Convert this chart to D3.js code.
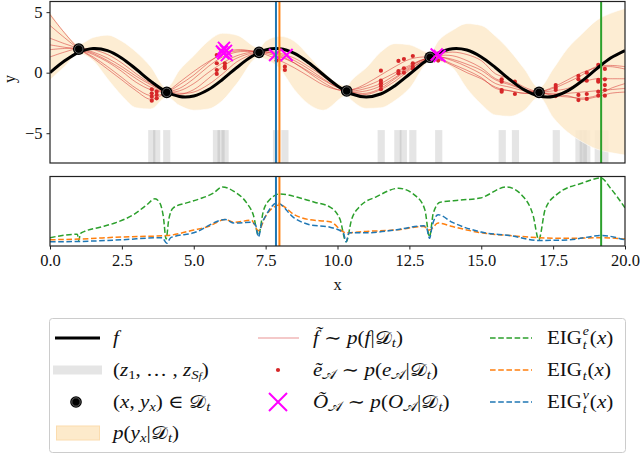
<!DOCTYPE html>
<html>
<head>
<meta charset="utf-8">
<script src="https://cdn.jsdelivr.net/npm/d3@7"></script>
<style>
body { margin: 0; background: #fff; }
svg { display: block; }
text { font-family: "Liberation Serif", "DejaVu Serif", serif; fill: #111; }
</style>
</head>
<body>
<svg id="chart" width="640" height="454"></svg>
<script>
// ---- data ----
var gridX = [0,0.5,1,1.5,2,2.5,3,3.5,4,4.5,5,5.5,6,6.5,7,7.5,8,8.5,9,9.5,10,
  10.5,11,11.5,12,12.5,13,13.5,14,14.5,15,15.5,16,16.5,17,17.5,18,18.5,19,19.5,20]
var fTrue = [0,0.96,1.68,1.99,1.82,1.2,0.28,-0.7,-1.51,-1.96,-1.92,-1.41,-0.56,0.43,1.31,1.88,1.98,1.6,0.82,-0.15,-1.09,
  -1.76,-2,-1.76,-1.07,-0.13,0.84,1.61,1.98,1.87,1.3,0.41,-0.58,-1.42,-1.92,-1.96,-1.5,-0.69,0.3,1.21,1.83]

// posterior samples f~
var s1 = [4.8,3.3,2,1.2,0.3,-0.6,-1.5,-2.2,-1.7,-0.8,0.1,0.9,1.5,1.8,1.8,1.6,1.3,0.8,0.1,-0.6,-1.2,
  -1.4,-1.1,-0.6,0,0.6,1.1,1.1,0.6,0,-0.5,-1.2,-1.5,-1.7,-1.6,-1.3,-0.8,-0.2,0.5,0.6,0.5]
var s2 = [3.9,2.9,2,1.5,0.9,0.1,-0.8,-1.4,-1.6,-1.3,-0.5,0.5,1.3,1.7,1.75,1.7,1.5,1,0.3,-0.5,-1.2,
  -1.5,-1.3,-0.9,-0.2,0.5,1.1,1.3,1,0.5,-0.1,-0.9,-1.2,-1.5,-1.6,-1.5,-1.3,-0.8,-0.5,-0.5,-0.5]
var s3 = [2.85,2.4,2,1.6,1,0.3,-0.5,-1.2,-1.6,-1.5,-0.9,0,0.8,1.4,1.7,1.8,1.6,1.2,0.5,-0.3,-1.1,
  -1.6,-1.7,-1.3,-0.5,0.3,1,1.4,1.4,1,0.4,-0.5,-0.9,-1.4,-1.65,-1.7,-1.7,-1.6,-1.5,-1.4,-1.3]
var s4 = [1.9,2,2,1.7,1.2,0.5,-0.3,-1,-1.6,-1.8,-1.4,-0.5,0.5,1.2,1.6,1.7,1.4,0.8,0,-0.8,-1.4,
  -1.6,-1.5,-1.1,-0.4,0.4,1.1,1.3,1.1,0.7,0.2,-0.6,-1,-1.4,-1.6,-1.9,-2,-2.1,-1.9,-1.3,-0.9]
var s5 = [1.3,1.7,2,1.9,1.5,0.8,-0.1,-0.9,-1.5,-1.7,-1.6,-1,-0.1,0.9,1.5,1.9,2,1.6,0.8,-0.2,-1.1,
  -1.7,-1.8,-1.4,-0.7,0.2,1,1.5,1.7,1.5,1,-0.1,-0.5,-1.2,-1.6,-1.8,-1.9,-2.2,-2,-1.7,-1.6]
var s6 = [2.3,2.1,1.9,1.3,0.5,-0.4,-1.3,-1.9,-1.7,-1,-0.2,0.8,1.6,1.9,1.8,1.5,1,0.4,-0.3,-1,-1.4,
  -1.4,-0.9,-0.2,0.5,1.1,1.3,1.2,0.7,0.2,-0.4,-1.3,-1.5,-1.7,-1.6,-1.2,-0.6,0,0.4,0.5,0.3]
var samples = [s1, s2, s3, s4, s5, s6]

// observations D_t
var obsX = [1.0, 4.06, 7.27, 10.32, 13.22, 17.01]
var obsY = [1.95, -1.63, 1.68, -1.51, 1.27, -1.63]

// predictive band p(y_x|D_t)
var bandX = [0,0.5,1,1.5,2,2.5,3,3.5,4.06,4.5,5,5.5,6,6.5,7.27,7.5,8,8.5,9,9.5,10.32,
  10.5,11,11.5,12,12.5,13.22,13.5,14,14.5,15,15.5,16,16.5,17.01,17.5,18,18.5,19,19.5,20]
var bandUp = [5,3.4,2.35,2.9,3.1,2.6,1.7,0.5,-1.25,0.2,1.4,2.6,3.25,3.1,2.05,2.6,3,2.6,1.4,0.1,-1.1,
  -0.6,0.4,1.7,2.4,2.3,1.65,2.6,3.5,4.05,3.9,3,1.8,0.3,-1.25,0.3,2,3.2,4.3,4.9,5.3]
var bandLo = [-0.6,0.5,1.55,1,-0.5,-1.9,-2.9,-3,-2,-2.7,-3.1,-3,-2.3,-0.9,1.3,1.1,0.3,-1.4,-2.6,-3.1,-1.9,
  -2.3,-2.95,-2.9,-2.3,-1.3,0.9,0.9,0.4,-1.3,-2.6,-3.5,-3.6,-3.1,-2,-3.7,-4.9,-5.7,-6.3,-6.6,-6.8]

// sampled points z_1..z_Sf (grey bars)
var zX = [3.54,3.71,4.06,5.79,5.95,6.09,7.88,8.17,11.52,12.1,12.29,12.62,13.52,
  15.73,16.19,17.61,18.4,18.55,18.67,19.07,19.3]

// execution path samples e_A
var dotX = [3.54,3.54,3.54,3.54,3.71,3.71,3.71,5.8,5.8,5.8,5.8,6.08,6.08,6.08,7.88,8.17,8.17,
  11.51,11.51,11.51,11.51,11.51,12.12,12.12,12.12,12.31,12.31,12.31,12.62,12.62,12.62,12.62,13.5,
  15.71,15.71,15.71,15.71,16.17,16.17,17.59,17.59,17.59,17.59,18.38,18.38,18.38,18.38,
  18.67,18.67,18.67,18.67,19.07,19.07,19.07,19.07,19.07,19.3,19.3,19.3,19.3,19.3]
var dotY = [-1.37,-1.7,-1.98,-2.31,-1.57,-1.84,-2.12,1.46,0.78,0.22,-0.1,0.78,0.55,0.38,1.0,0.5,0.22,
  0.17,-0.66,-0.88,-1.1,-1.37,0.97,0.14,-0.05,1.13,0.36,0,1.38,0.78,0.5,0.33,1.0,
  -0.55,-0.74,-1.43,-1.57,-0.74,-1.76,-1.02,-1.24,-1.43,-1.93,-0.27,-0.55,-1.84,-2.26,
  0,-0.66,-1.76,-2.17,0.64,-0.6,-0.74,-1.57,-1.9,0.31,-0.55,-1.02,-1.43,-1.9]

// algorithm outputs O_A
var outX = [6.05, 6.12, 6.03, 6.15, 5.98, 7.83, 8.23, 13.45, 13.55]
var outY = [2.05, 1.8, 1.6, 1.45, 1.75, 1.46, 1.46, 1.5, 1.38]

// chosen queries (vertical lines)
var pickBlue = 7.86, pickOrange = 7.98, pickGreen = 19.17

// EIG curves (arbitrary units, 0..1 of lower panel)
var eigEX = [0,0.95,1.0,1.06,1.2,1.74,2.32,2.9,3.36,3.65,3.82,3.94,4.04,4.13,4.29,4.75,5.22,5.68,6.0,6.38,
  6.84,7.07,7.25,7.42,7.65,8.0,8.7,9.2,9.74,10.09,10.3,10.49,10.78,11.36,12.12,12.75,13.04,13.2,13.33,
  13.57,14.26,14.96,15.88,16.46,16.81,17.0,17.22,17.62,18.55,19.17,19.48,20]
var eigEY = [0.12,0.17,0.08,0.18,0.21,0.27,0.34,0.45,0.59,0.68,0.62,0.43,0.1,0.38,0.55,0.62,0.68,0.76,0.85,0.79,
  0.62,0.45,0.16,0.5,0.67,0.75,0.69,0.63,0.56,0.38,0.06,0.38,0.57,0.71,0.83,0.71,0.52,0.13,0.47,
  0.63,0.66,0.69,0.85,0.71,0.43,0.09,0.52,0.74,0.91,0.98,0.84,0.55]
var eigX = [0,1,2.5,4.06,5,5.5,6.1,6.4,7.0,7.25,7.5,8.0,8.5,9.0,9.74,10.3,11,12,13,13.2,13.5,14,15,16,17,18,19.2,20]
var eigY = [0.09,0.1,0.13,0.15,0.23,0.28,0.38,0.34,0.37,0.22,0.43,0.59,0.45,0.38,0.35,0.19,0.21,0.23,0.28,0.23,
  0.33,0.28,0.19,0.15,0.12,0.11,0.12,0.1]
var eigVX = [0,1,2.5,3.9,4.06,4.2,5,6.1,6.4,7.0,7.15,7.25,7.35,7.5,7.9,8.5,9.0,9.74,10.2,10.3,10.4,11,12,13,13.1,
  13.2,13.3,13.5,14,15,16,17,18,19.2,20]
var eigVY = [0.06,0.065,0.09,0.12,0.04,0.12,0.19,0.38,0.33,0.34,0.3,0.13,0.3,0.43,0.62,0.4,0.31,0.27,0.19,0.06,0.19,
  0.19,0.23,0.29,0.26,0.11,0.3,0.45,0.34,0.2,0.15,0.08,0.087,0.15,0.087]

var xTicks = [0, 2.5, 5, 7.5, 10, 12.5, 15, 17.5, 20]
var yTicks = [-5, 0, 5]

// ---- layout ----
var svg = d3.select("#chart")
var L = 50, R = 625
var topT = 1.5, topB = 163
var botT = 176.5, botB = 246

var x = d3.scaleLinear().domain([0, 20]).range([L, R])
var y = d3.scaleLinear().domain([-7.46, 5.88]).range([topB, topT])
var yb = d3.scaleLinear().domain([0, 1]).range([botB, botT])

var defs = svg.append("defs")
defs.append("clipPath").attr("id", "clipTop").append("rect")
	.attr("x", L).attr("y", topT).attr("width", R - L).attr("height", topB - topT)
defs.append("clipPath").attr("id", "clipBot").append("rect")
	.attr("x", L).attr("y", botT).attr("width", R - L).attr("height", botB - botT)

var bandCol = "#fdeacb"
var red = "#d62728"
var magenta = "#ff00ff"

// ---- top panel ----
var gTop = svg.append("g").attr("clip-path", "url(#clipTop)")

// grey bars
gTop.selectAll(".zbar").data(zX).enter().append("rect")
	.attr("x", function (d) { return x(d - 0.125) })
	.attr("width", x(0.25) - x(0))
	.attr("y", y(-4.74))
	.attr("height", topB - y(-4.74))
	.attr("fill", "#999")
	.attr("fill-opacity", 0.25)

var bandArea = d3.area()
	.x(function (d, i) { return x(bandX[i]) })
	.y0(function (d, i) { return y(bandLo[i]) })
	.y1(function (d, i) { return y(bandUp[i]) })
	.curve(d3.curveMonotoneX)
gTop.append("path").datum(bandX).attr("d", bandArea)
	.attr("fill", bandCol).attr("fill-opacity", 0.85)
var edge = function (arr) {
	return d3.line().x(function (d, i) { return x(bandX[i]) })
		.y(function (d, i) { return y(arr[i]) }).curve(d3.curveMonotoneX)(bandX)
}
gTop.append("path").attr("d", edge(bandUp)).attr("fill", "none").attr("stroke", "#fff").attr("stroke-opacity", 0.7).attr("stroke-width", 0.8)
gTop.append("path").attr("d", edge(bandLo)).attr("fill", "none").attr("stroke", "#fff").attr("stroke-opacity", 0.7).attr("stroke-width", 0.8)

// posterior samples
var gridLine = d3.line()
	.x(function (d, i) { return x(gridX[i]) })
	.y(function (d) { return y(d) })
	.curve(d3.curveCatmullRom)
gTop.selectAll(".samp").data(samples).enter().append("path")
	.attr("d", gridLine)
	.attr("fill", "none")
	.attr("stroke", red)
	.attr("stroke-opacity", 0.5)
	.attr("stroke-width", 1)

// execution path dots
gTop.selectAll(".dot").data(dotX).enter().append("circle")
	.attr("cx", function (d) { return x(d) })
	.attr("cy", function (d, i) { return y(dotY[i]) })
	.attr("r", 2.1)
	.attr("fill", red)

// true f
gTop.append("path").datum(fTrue).attr("d", gridLine)
	.attr("fill", "none").attr("stroke", "#000").attr("stroke-width", 3)

// observations
function obsMarker(g, cx, cy) {
	g.append("circle").attr("cx", cx).attr("cy", cy).attr("r", 5.8).attr("fill", "#000")
	g.append("circle").attr("cx", cx).attr("cy", cy).attr("r", 4.2).attr("fill", "none")
		.attr("stroke", "#777").attr("stroke-width", 0.8)
}
obsX.forEach(function (ox, i) { obsMarker(gTop, x(ox), y(obsY[i])) })

// outputs O_A
function cross(g, cx, cy, h, w) {
	g.append("path")
		.attr("d", "M" + (cx - h) + "," + (cy - h) + "L" + (cx + h) + "," + (cy + h) +
			"M" + (cx - h) + "," + (cy + h) + "L" + (cx + h) + "," + (cy - h))
		.attr("stroke", magenta).attr("stroke-width", w).attr("fill", "none")
}
outX.forEach(function (ox, i) { cross(gTop, x(ox), y(outY[i]), 6, 2) })

// vertical lines
function vline(g, xv, col, t, b) {
	g.append("line").attr("x1", x(xv)).attr("x2", x(xv)).attr("y1", t).attr("y2", b)
		.attr("stroke", col).attr("stroke-width", 2)
}
vline(gTop, pickBlue, "#1f77b4", topT, topB)
vline(gTop, pickOrange, "#ff7f0e", topT, topB)
vline(gTop, pickGreen, "#2ca02c", topT, topB)

// frame + y axis
svg.append("rect").attr("x", L).attr("y", topT).attr("width", R - L).attr("height", topB - topT)
	.attr("fill", "none").attr("stroke", "#222").attr("stroke-width", 1.2)
var yAxis = svg.append("g").attr("transform", "translate(" + L + ",0)")
	.call(d3.axisLeft(y).tickValues(yTicks).tickSize(3.5).tickPadding(4)
		.tickFormat(function (d) { return d < 0 ? "\u2212" + Math.abs(d) : d }))
yAxis.select(".domain").remove()
yAxis.selectAll("line").attr("stroke", "#222").attr("stroke-width", 1)
yAxis.selectAll("text").attr("font-family", "Liberation Serif, serif").attr("font-size", 16.5).attr("fill", "#111")
svg.append("text").attr("transform", "translate(9,79) rotate(-90)")
	.attr("text-anchor", "middle").attr("dominant-baseline", "central")
	.attr("font-size", 16).text("y")

// ---- bottom panel ----
var gBot = svg.append("g").attr("clip-path", "url(#clipBot)")
function eigLine(xs, ys) {
	return d3.line().x(function (d, i) { return x(xs[i]) }).y(function (d, i) { return yb(ys[i]) })
		.curve(d3.curveMonotoneX)(xs)
}
var dash = "5.6,2.6"
gBot.append("path").attr("d", eigLine(eigEX, eigEY)).attr("fill", "none")
	.attr("stroke", "#2ca02c").attr("stroke-width", 1.5).attr("stroke-dasharray", dash)
gBot.append("path").attr("d", eigLine(eigX, eigY)).attr("fill", "none")
	.attr("stroke", "#ff7f0e").attr("stroke-width", 1.5).attr("stroke-dasharray", dash)
gBot.append("path").attr("d", eigLine(eigVX, eigVY)).attr("fill", "none")
	.attr("stroke", "#1f77b4").attr("stroke-width", 1.5).attr("stroke-dasharray", dash)
vline(gBot, pickBlue, "#1f77b4", botT, botB)
vline(gBot, pickOrange, "#ff7f0e", botT, botB)
vline(gBot, pickGreen, "#2ca02c", botT, botB)

svg.append("rect").attr("x", L).attr("y", botT).attr("width", R - L).attr("height", botB - botT)
	.attr("fill", "none").attr("stroke", "#222").attr("stroke-width", 1.2)
var xAxis = svg.append("g").attr("transform", "translate(0," + botB + ")")
	.call(d3.axisBottom(x).tickValues(xTicks).tickSize(3.5).tickPadding(5).tickFormat(d3.format(".1f")))
xAxis.select(".domain").remove()
xAxis.selectAll("line").attr("stroke", "#222").attr("stroke-width", 1)
xAxis.selectAll("text").attr("font-family", "Liberation Serif, serif").attr("font-size", 16.5).attr("fill", "#111")
svg.append("text").attr("x", x(10)).attr("y", 290).attr("text-anchor", "middle")
	.attr("font-size", 16.5).text("x")

// ---- legend ----
var leg = svg.append("g")
leg.append("rect").attr("x", 49.5).attr("y", 318.5).attr("width", 576).attr("height", 134)
	.attr("rx", 3).attr("fill", "#fff").attr("stroke", "#ccc").attr("stroke-width", 1)

var rows = [338, 370, 402, 433]
var cal = { D: "\uD835\uDC9F", A: "\uD835\uDC9C" }
var FS = 18, SX = 1.17

// math-ish label: parts are [text, style]; i = italic, b = subscript, B = sub-sub
function mtext(tx, ty, parts) {
	var g = leg.append("g").attr("transform", "translate(" + tx + "," + ty + ") scale(" + SX + ",1)")
	var t = g.append("text").attr("x", 0).attr("y", 0).attr("font-size", FS)
	parts.forEach(function (p) {
		var s = t.append("tspan").text(p[0])
		var st = p[1] || ""
		if (st.indexOf("i") >= 0) s.attr("font-style", "italic")
		if (st.indexOf("b") >= 0) s.attr("baseline-shift", "-25%").attr("font-size", FS * 0.7)
		if (st.indexOf("B") >= 0) s.attr("baseline-shift", "-45%").attr("font-size", FS * 0.55)
	})
	return g
}
// EIG with stacked super/subscript
function eigText(tx, ty, sup) {
	var g = leg.append("g").attr("transform", "translate(" + tx + "," + ty + ") scale(" + SX + ",1)")
	var t0 = g.append("text").attr("x", 0).attr("y", 0).attr("font-size", FS).text("EIG")
	var w = t0.node().getComputedTextLength() + 0.6
	var wsub = 0
	if (sup) {
		var ts = g.append("text").attr("x", w).attr("y", -8.5).attr("font-size", FS * 0.66)
			.attr("font-style", "italic").text(sup)
		wsub = ts.node().getComputedTextLength()
	}
	var tb = g.append("text").attr("x", w).attr("y", sup ? 5.5 : 4.5).attr("font-size", FS * 0.66)
		.attr("font-style", "italic").text("t")
	wsub = Math.max(wsub, tb.node().getComputedTextLength())
	var t1 = g.append("text").attr("x", w + wsub + 0.8).attr("y", 0).attr("font-size", FS)
	t1.append("tspan").text("(")
	t1.append("tspan").attr("font-style", "italic").text("x")
	t1.append("tspan").text(")")
}
var bl = function (r) { return rows[r] + 5.5 }

// column 1
leg.append("line").attr("x1", 55).attr("x2", 100).attr("y1", rows[0]).attr("y2", rows[0])
	.attr("stroke", "#000").attr("stroke-width", 3)
mtext(113, bl(0), [["f", "i"]])
leg.append("rect").attr("x", 53).attr("y", rows[1] - 4.5).attr("width", 49).attr("height", 9)
	.attr("fill", "#999").attr("fill-opacity", 0.25)
mtext(113, bl(1), [["("], ["z", "i"], ["1", "b"], [", \u2026 , "], ["z", "i"], ["S", "ib"], ["f", "iB"], [")"]])
obsMarker(leg, 76, rows[2])
mtext(113, bl(2), [["("], ["x", "i"], [", "], ["y", "i"], ["x", "ib"], [") \u2208 "], [cal.D], ["t", "ib"]])
leg.append("rect").attr("x", 56.5).attr("y", rows[3] - 7).attr("width", 43).attr("height", 14)
	.attr("fill", bandCol).attr("stroke", "#fbdcae").attr("stroke-width", 1)
mtext(113, bl(3), [["p", "i"], ["("], ["y", "i"], ["x", "ib"], ["|"], [cal.D], ["t", "ib"], [")"]])

// column 2
leg.append("line").attr("x1", 258).attr("x2", 299).attr("y1", rows[0]).attr("y2", rows[0])
	.attr("stroke", red).attr("stroke-opacity", 0.5).attr("stroke-width", 1)
mtext(313, bl(0), [["f\u0303", "i"], [" \u223C "], ["p", "i"], ["("], ["f", "i"], ["|"], [cal.D], ["t", "ib"], [")"]])
leg.append("circle").attr("cx", 278).attr("cy", rows[1]).attr("r", 2.1).attr("fill", red)
mtext(313, bl(1), [["e\u0303", "i"], [cal.A, "b"], [" \u223C "], ["p", "i"], ["("], ["e", "i"], [cal.A, "b"], ["|"], [cal.D], ["t", "ib"], [")"]])
cross(leg, 278, rows[2], 9, 2)
mtext(313, bl(2), [["O\u0303", "i"], [cal.A, "b"], [" \u223C "], ["p", "i"], ["("], ["O", "i"], [cal.A, "b"], ["|"], [cal.D], ["t", "ib"], [")"]])

// column 3
var legEig = [["#2ca02c", "e"], ["#ff7f0e", ""], ["#1f77b4", "v"]]
legEig.forEach(function (e, i) {
	leg.append("line").attr("x1", 490).attr("x2", 532).attr("y1", rows[i]).attr("y2", rows[i])
		.attr("stroke", e[0]).attr("stroke-width", 1.5).attr("stroke-dasharray", dash)
	eigText(547, bl(i), e[1])
})
</script>
</body>
</html>
